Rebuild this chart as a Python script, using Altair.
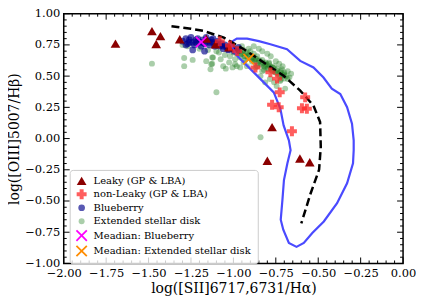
import altair as alt
import pandas as pd

# ---------------- data ----------------
groups = ["Leaky (GP & LBA)", "non-Leaky (GP & LBA)", "Blueberry",
          "Extended stellar disk", "Meadian: Blueberry",
          "Meadian: Extended stellar disk"]

leaky_x = [-1.695, -1.48, -1.43, -1.455, -1.316, -1.16, -1.105, -1.026, -0.772, -0.80, -0.608, -0.55]
leaky_y = [0.76, 0.86, 0.82, 0.757, 0.795, 0.80, 0.755, 0.73, 0.092, -0.178, -0.16, -0.19]

nonleaky_x = [-1.08, -1.02, -0.978, -0.87, -0.782, -0.743, -0.727, -0.577, -0.772, -0.733, -0.596, -0.567, -0.655]
nonleaky_y = [0.78, 0.745, 0.70, 0.569, 0.53, 0.48, 0.37, 0.33, 0.27, 0.25, 0.243, 0.238, 0.058]

blue_x = [-1.30, -1.28, -1.27, -1.26, -1.25, -1.24, -1.23, -1.22, -1.21, -1.20, -1.19, -1.18,
          -1.17, -1.16, -1.15, -1.14, -1.13, -1.12, -1.11, -1.10, -1.09, -1.08, -1.07, -1.06,
          -1.05, -1.04, -1.03, -1.02, -1.00, -0.98, -0.97, -1.24, -1.17, -1.28, -1.12, -1.03, -0.995,
          -1.26, -1.22, -1.18, -1.14, -1.10, -1.06, -1.01]
blue_y = [0.78, 0.80, 0.76, 0.79, 0.81, 0.77, 0.75, 0.79, 0.80, 0.77, 0.74, 0.79,
          0.76, 0.81, 0.78, 0.75, 0.79, 0.77, 0.74, 0.76, 0.78, 0.74, 0.76, 0.72,
          0.75, 0.73, 0.71, 0.74, 0.72, 0.70, 0.73, 0.71, 0.70, 0.75, 0.80, 0.715, 0.70,
          0.77, 0.77, 0.77, 0.77, 0.75, 0.74, 0.73]

green_x = [-1.48, -1.29, -1.29, -1.24, -1.16, -1.125, -1.125, -1.135, -1.10, -0.84,
           -1.30, -1.27, -1.20, -1.15, -1.10, -1.085, -1.075, -1.06, -1.045, -1.025,
           -1.005, -0.99, -0.98, -1.05, -1.02, -1.00, -1.13, -1.12,
           -0.99, -0.96, -0.94, -0.92, -0.89, -0.87, -0.97, -0.96, -0.95, -0.94,
           -0.93, -0.92, -0.91, -0.90, -0.89, -0.88, -0.87, -0.86, -0.85, -0.96,
           -0.93, -0.88, -0.98, -0.95, -0.91,
           -0.84, -0.83, -0.82, -0.81, -0.80, -0.79, -0.78, -0.77, -0.76, -0.75,
           -0.74, -0.73, -0.72, -0.71, -0.70, -0.70, -0.72, -0.84, -0.83, -0.81,
           -0.79, -0.77, -0.755, -0.714, -0.70, -0.68, -0.76, -0.745, -0.725, -0.695,
           -0.785, -0.813, -0.86, -0.82, -0.66, -0.67, -0.68, -0.69,
           -0.88, -0.85, -0.83, -0.80, -0.78, -0.75, -0.73, -0.71,
           -0.97, -0.945, -0.925, -0.905, -0.885, -0.865, -0.845, -0.825, -0.805, -0.785,
           -0.765, -0.745, -0.725, -0.705, -0.955, -0.935, -0.915, -0.895, -0.875, -0.855,
           -0.835, -0.815, -0.795, -0.775, -0.735, -0.715]
green_y = [0.60, 0.645, 0.58, 0.63, 0.62, 0.65, 0.60, 0.555, 0.37, 0.01,
           0.75, 0.74, 0.72, 0.71, 0.70, 0.69, 0.635, 0.58, 0.56, 0.61,
           0.57, 0.635, 0.58, 0.67, 0.66, 0.69, 0.596, 0.65,
           0.595, 0.57, 0.61, 0.58, 0.615, 0.57, 0.72, 0.70, 0.68, 0.71,
           0.66, 0.69, 0.67, 0.70, 0.65, 0.68, 0.64, 0.66, 0.62, 0.65,
           0.63, 0.63, 0.68, 0.74, 0.72,
           0.60, 0.63, 0.58, 0.61, 0.56, 0.60, 0.57, 0.54, 0.58, 0.53,
           0.56, 0.50, 0.54, 0.51, 0.53, 0.48, 0.47, 0.50, 0.54, 0.59,
           0.61, 0.57, 0.53, 0.556, 0.516, 0.477, 0.45, 0.42, 0.46, 0.40,
           0.477, 0.45, 0.58, 0.55, 0.52, 0.49, 0.54, 0.50,
           0.74, 0.72, 0.70, 0.68, 0.66, 0.62, 0.60, 0.58,
           0.70, 0.69, 0.68, 0.665, 0.655, 0.64, 0.625, 0.61, 0.595, 0.58,
           0.565, 0.545, 0.53, 0.51, 0.675, 0.66, 0.645, 0.635, 0.62, 0.605,
           0.59, 0.575, 0.56, 0.55, 0.52, 0.50]

med_blue_x = [-1.19]
med_blue_y = [0.773]
med_ext_x = [-0.91]
med_ext_y = [0.636]

dash_x = [-1.365, -1.25, -1.173, -1.056, -0.938, -0.821, -0.704, -0.606, -0.528,
          -0.489, -0.485, -0.495, -0.545, -0.60]
dash_y = [0.90, 0.88, 0.861, 0.808, 0.715, 0.609, 0.503, 0.384, 0.264,
          0.132, -0.067, -0.25, -0.44, -0.68]

cont_x = [-1.016, -0.98, -0.919, -0.85, -0.782, -0.684, -0.606, -0.528, -0.469, -0.42,
          -0.37, -0.33, -0.301, -0.291, -0.291, -0.295, -0.33, -0.389, -0.467, -0.535,
          -0.585, -0.628, -0.673, -0.706, -0.721, -0.711, -0.702, -0.682, -0.663, -0.673,
          -0.704, -0.723, -0.762, -0.821, -0.899, -0.978, -1.005, -1.016]
cont_y = [0.77, 0.80, 0.80, 0.78, 0.755, 0.715, 0.622, 0.569, 0.489, 0.40,
          0.357, 0.251, 0.119, -0.014, -0.093, -0.199, -0.358, -0.517, -0.664, -0.756,
          -0.835, -0.867, -0.835, -0.73, -0.65, -0.491, -0.332, -0.199, -0.093, -0.014,
          0.105, 0.238, 0.37, 0.45, 0.556, 0.662, 0.72, 0.77]

x_major = [-2.0, -1.75, -1.5, -1.25, -1.0, -0.75, -0.5, -0.25, 0.0]
y_major = [-1.0, -0.75, -0.5, -0.25, 0.0, 0.25, 0.5, 0.75, 1.0]

# ---------------- styling ----------------
W, H = 341, 251
FONT = "DejaVu Serif"


def xpath(t=0.15, a=1.25):
    pts = [(t, t), (a, t), (a, -t), (t, -t), (t, -a), (-t, -a), (-t, -t),
           (-a, -t), (-a, t), (-t, t), (-t, a), (t, a)]
    r = 0.70710678
    rot = [((px - py) * r, (px + py) * r) for px, py in pts]
    return "M" + "L".join(f"{px:.3f},{py:.3f}" for px, py in rot) + "Z"


XP = xpath()
colors = ["#8b0000", "rgba(255,40,40,0.75)", "rgba(0,0,139,0.65)",
          "rgba(31,127,31,0.38)", "#ff00ff", "#ff8c00"]
shapes = ["triangle-up", "cross", "circle", "circle", XP, XP]
sizes = [95, 100, 45, 36, 140, 140]


def pts_df(xs, ys, g):
    return pd.DataFrame({"x": xs, "y": ys, "group": g})


df_a = pd.concat([pts_df(green_x, green_y, groups[3]),
                  pts_df(blue_x, blue_y, groups[2])], ignore_index=True)
df_b = pd.concat([pts_df(leaky_x, leaky_y, groups[0]),
                  pts_df(nonleaky_x, nonleaky_y, groups[1])], ignore_index=True)
df_m = pd.concat([pts_df(med_blue_x, med_blue_y, groups[4]),
                  pts_df(med_ext_x, med_ext_y, groups[5])], ignore_index=True)

x_enc = alt.X("x:Q", scale=alt.Scale(domain=[-2, 0], nice=False, zero=False),
              axis=alt.Axis(values=x_major, format=".2f",
                            title="log([SII]6717,6731/Hα)", labelFlush=False,
                            labelOverlap=False, titlePadding=3))
y_enc = alt.Y("y:Q", scale=alt.Scale(domain=[-1, 1], nice=False, zero=False),
              axis=alt.Axis(values=y_major, format=".2f",
                            title="log([OIII]5007/Hβ)", labelFlush=False,
                            labelOverlap=False, titlePadding=3))

enc_common = dict(
    x=x_enc, y=y_enc,
    color=alt.Color("group:N", scale=alt.Scale(domain=groups, range=colors), title=None),
    shape=alt.Shape("group:N", scale=alt.Scale(domain=groups, range=shapes), title=None),
    size=alt.Size("group:N", scale=alt.Scale(type="ordinal", domain=groups, range=sizes),
                  title=None),
)


def point_layer(df):
    return alt.Chart(df).mark_point(filled=True, strokeWidth=0, opacity=1).encode(**enc_common)


layer_a = point_layer(df_a)
layer_b = point_layer(df_b)
layer_m = point_layer(df_m)

cont_df = pd.DataFrame({"x": cont_x, "y": cont_y, "i": list(range(len(cont_x)))})
dash_df = pd.DataFrame({"x": dash_x, "y": dash_y, "i": list(range(len(dash_x)))})

contour = alt.Chart(cont_df).mark_line(color="#4a4aff", strokeWidth=2.2).encode(
    x=x_enc, y=y_enc, order="i:Q")
dashed = alt.Chart(dash_df).mark_line(color="black", strokeWidth=2.5,
                                      strokeDash=[8, 4]).encode(
    x=x_enc, y=y_enc, order="i:Q")

# inward ticks on all four sides
x_minor = [round(-2 + 0.05 * k, 2) for k in range(41)]
x_minor = [v for v in x_minor if all(abs(v - m) > 1e-6 for m in x_major)]
y_minor = [round(-1 + 0.05 * k, 2) for k in range(41)]
y_minor = [v for v in y_minor if all(abs(v - m) > 1e-6 for m in y_major)]

tick_layers = []
for vals, ln in [(x_major, 6), (x_minor, 3)]:
    d = pd.DataFrame({"x": vals})
    tick_layers.append(alt.Chart(d).mark_rule(color="black", strokeWidth=1).encode(
        x=x_enc, y=alt.value(H), y2=alt.value(H - ln)))
    tick_layers.append(alt.Chart(d).mark_rule(color="black", strokeWidth=1).encode(
        x=x_enc, y=alt.value(0), y2=alt.value(ln)))
for vals, ln in [(y_major, 6), (y_minor, 3)]:
    d = pd.DataFrame({"y": vals})
    tick_layers.append(alt.Chart(d).mark_rule(color="black", strokeWidth=1).encode(
        y=y_enc, x=alt.value(0), x2=alt.value(ln)))
    tick_layers.append(alt.Chart(d).mark_rule(color="black", strokeWidth=1).encode(
        y=y_enc, x=alt.value(W), x2=alt.value(W - ln)))

chart = alt.layer(layer_a, contour, dashed, layer_b, layer_m, *tick_layers).properties(
    width=W, height=H,
    autosize=alt.AutoSizeParams(type="none"),
    padding={"left": 56, "top": 5, "right": 13, "bottom": 33},
).configure_view(
    stroke="black", strokeWidth=1.5
).configure_axis(
    labelFont=FONT, labelFontSize=11.5, labelColor="black",
    titleFont=FONT, titleFontSize=14, titleFontWeight="normal", titleColor="black",
    domain=False, ticks=False, grid=False, labelPadding=4,
).configure_legend(
    orient="none", legendX=6, legendY=157, padding=6,
    fillColor="rgba(255,255,255,0.8)", strokeColor="#cccccc", cornerRadius=3,
    labelFont=FONT, labelFontSize=10, labelColor="black",
    rowPadding=3.5, labelOffset=6, symbolStrokeWidth=0, symbolOpacity=1,
)

chart.save("out.html", embed_options={"renderer": "svg", "actions": False})
